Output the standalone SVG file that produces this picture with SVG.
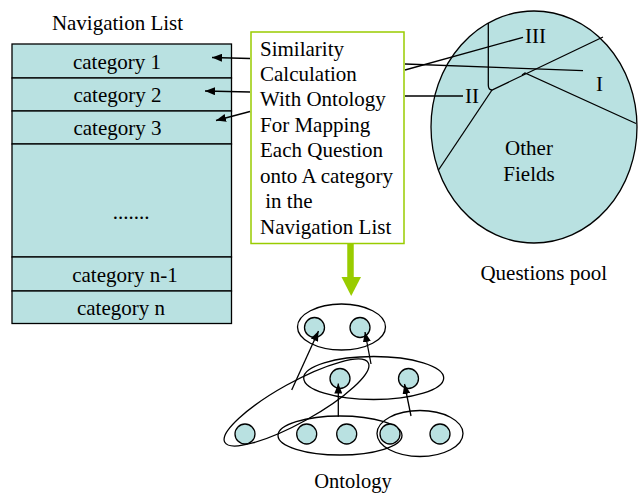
<svg xmlns="http://www.w3.org/2000/svg" width="638" height="493" viewBox="0 0 638 493">
<style>
.t{font-family:'Liberation Serif','DejaVu Serif',serif;font-size:21px;fill:#000}
.c{text-anchor:middle}
.cell{fill:#b9e1e1;stroke:#000;stroke-width:1.3}
.ln{fill:none;stroke:#000;stroke-width:1.3}
.node{fill:#b9e1e1;stroke:#000;stroke-width:1.3}
.grp{fill:none;stroke:#000;stroke-width:1.3}
</style>
<defs>
<marker id="ah" viewBox="0 0 10 8" refX="10" refY="4" markerWidth="10" markerHeight="8" markerUnits="userSpaceOnUse" orient="auto">
<path d="M0,0 L10,4 L0,8 z" fill="#000"/>
</marker>
</defs>

<g id="nav-list">
<text class="t c" x="117.5" y="30">Navigation List</text>
<rect class="cell" x="12" y="44" width="219.5" height="34"/>
<rect class="cell" x="12" y="78" width="219.5" height="33"/>
<rect class="cell" x="12" y="111" width="219.5" height="33"/>
<rect class="cell" x="12" y="144" width="219.5" height="113"/>
<rect class="cell" x="12" y="257" width="219.5" height="34"/>
<rect class="cell" x="12" y="291" width="219.5" height="32.5"/>
<text class="t c" x="117" y="69">category 1</text>
<text class="t c" x="117.5" y="102">category 2</text>
<text class="t c" x="117.5" y="135">category 3</text>
<text class="t c" x="131" y="219">.......</text>
<text class="t c" x="125" y="282">category n-1</text>
<text class="t c" x="121" y="315">category n</text>
</g>

<g id="similarity-box">
<rect x="251" y="32" width="153" height="211.5" fill="#fff" stroke="#99cc00" stroke-width="1.5"/>
<text class="t" x="260" y="56">Similarity</text>
<text class="t" x="260" y="81">Calculation</text>
<text class="t" x="260" y="106">With Ontology</text>
<text class="t" x="260" y="132">For Mapping</text>
<text class="t" x="260" y="157">Each Question</text>
<text class="t" x="260" y="183">onto A category</text>
<text class="t" x="260" y="208" xml:space="preserve"> in the</text>
<text class="t" x="260" y="234">Navigation List</text>
</g>

<g id="questions-pool">
<ellipse class="node" cx="534" cy="127" rx="103" ry="116"/>
<path class="ln" d="M488.3,23 L488.3,85 Q488.3,90 492,90 L603,37"/>
<path class="ln" d="M492,90 L438.5,170"/>
<path class="ln" d="M522,75 L525,73 L636,123.5"/>
<text class="t" x="525" y="43">III</text>
<text class="t" x="596" y="91">I</text>
<text class="t" x="465" y="103">II</text>
<text class="t c" x="529" y="155">Other</text>
<text class="t c" x="529" y="181">Fields</text>
<text class="t c" x="543.7" y="280">Questions pool</text>
</g>

<g id="ontology">
<ellipse class="grp" cx="341.5" cy="327" rx="44" ry="23"/>
<ellipse class="grp" cx="373.7" cy="378" rx="70" ry="21.5"/>
<ellipse class="grp" cx="340" cy="435.5" rx="62" ry="19.5"/>
<ellipse class="grp" cx="420" cy="433.5" rx="43" ry="23"/>
<ellipse class="grp" cx="296.5" cy="402.5" rx="82" ry="20" transform="rotate(-29 296.5 402.5)"/>
<circle class="node" cx="314.5" cy="327.5" r="10"/>
<circle class="node" cx="360" cy="327.5" r="10"/>
<circle class="node" cx="340" cy="378.5" r="10"/>
<circle class="node" cx="408.5" cy="378.5" r="10"/>
<circle class="node" cx="245" cy="434" r="10"/>
<circle class="node" cx="306.7" cy="434" r="10"/>
<circle class="node" cx="346.7" cy="434" r="10"/>
<circle class="node" cx="390" cy="434" r="10"/>
<circle class="node" cx="440" cy="434" r="10"/>
<text class="t c" x="353" y="488" style="font-size:20.5px">Ontology</text>
</g>

<g id="connectors">
<line class="ln" x1="250" y1="58.5" x2="212" y2="57.5" marker-end="url(#ah)"/>
<line class="ln" x1="250" y1="92" x2="205" y2="91" marker-end="url(#ah)"/>
<line class="ln" x1="250" y1="111.5" x2="216" y2="120.5" marker-end="url(#ah)"/>
<line class="ln" x1="405" y1="64" x2="583" y2="70.7"/>
<line class="ln" x1="405" y1="70" x2="523" y2="37.3"/>
<line class="ln" x1="405" y1="96" x2="463" y2="96"/>
<line x1="350.5" y1="243.5" x2="350.5" y2="278" stroke="#99cc00" stroke-width="6.5"/>
<path d="M341.5,277 L361,277 L351.2,296 z" fill="#99cc00"/>
<line class="ln" x1="291.7" y1="390" x2="318.5" y2="331" marker-end="url(#ah)"/>
<line class="ln" x1="371" y1="364" x2="365" y2="332" marker-end="url(#ah)"/>
<line class="ln" x1="338.3" y1="416.7" x2="338.3" y2="383.5" marker-end="url(#ah)"/>
<line class="ln" x1="411" y1="416" x2="404.5" y2="384" marker-end="url(#ah)"/>
</g>
</svg>
